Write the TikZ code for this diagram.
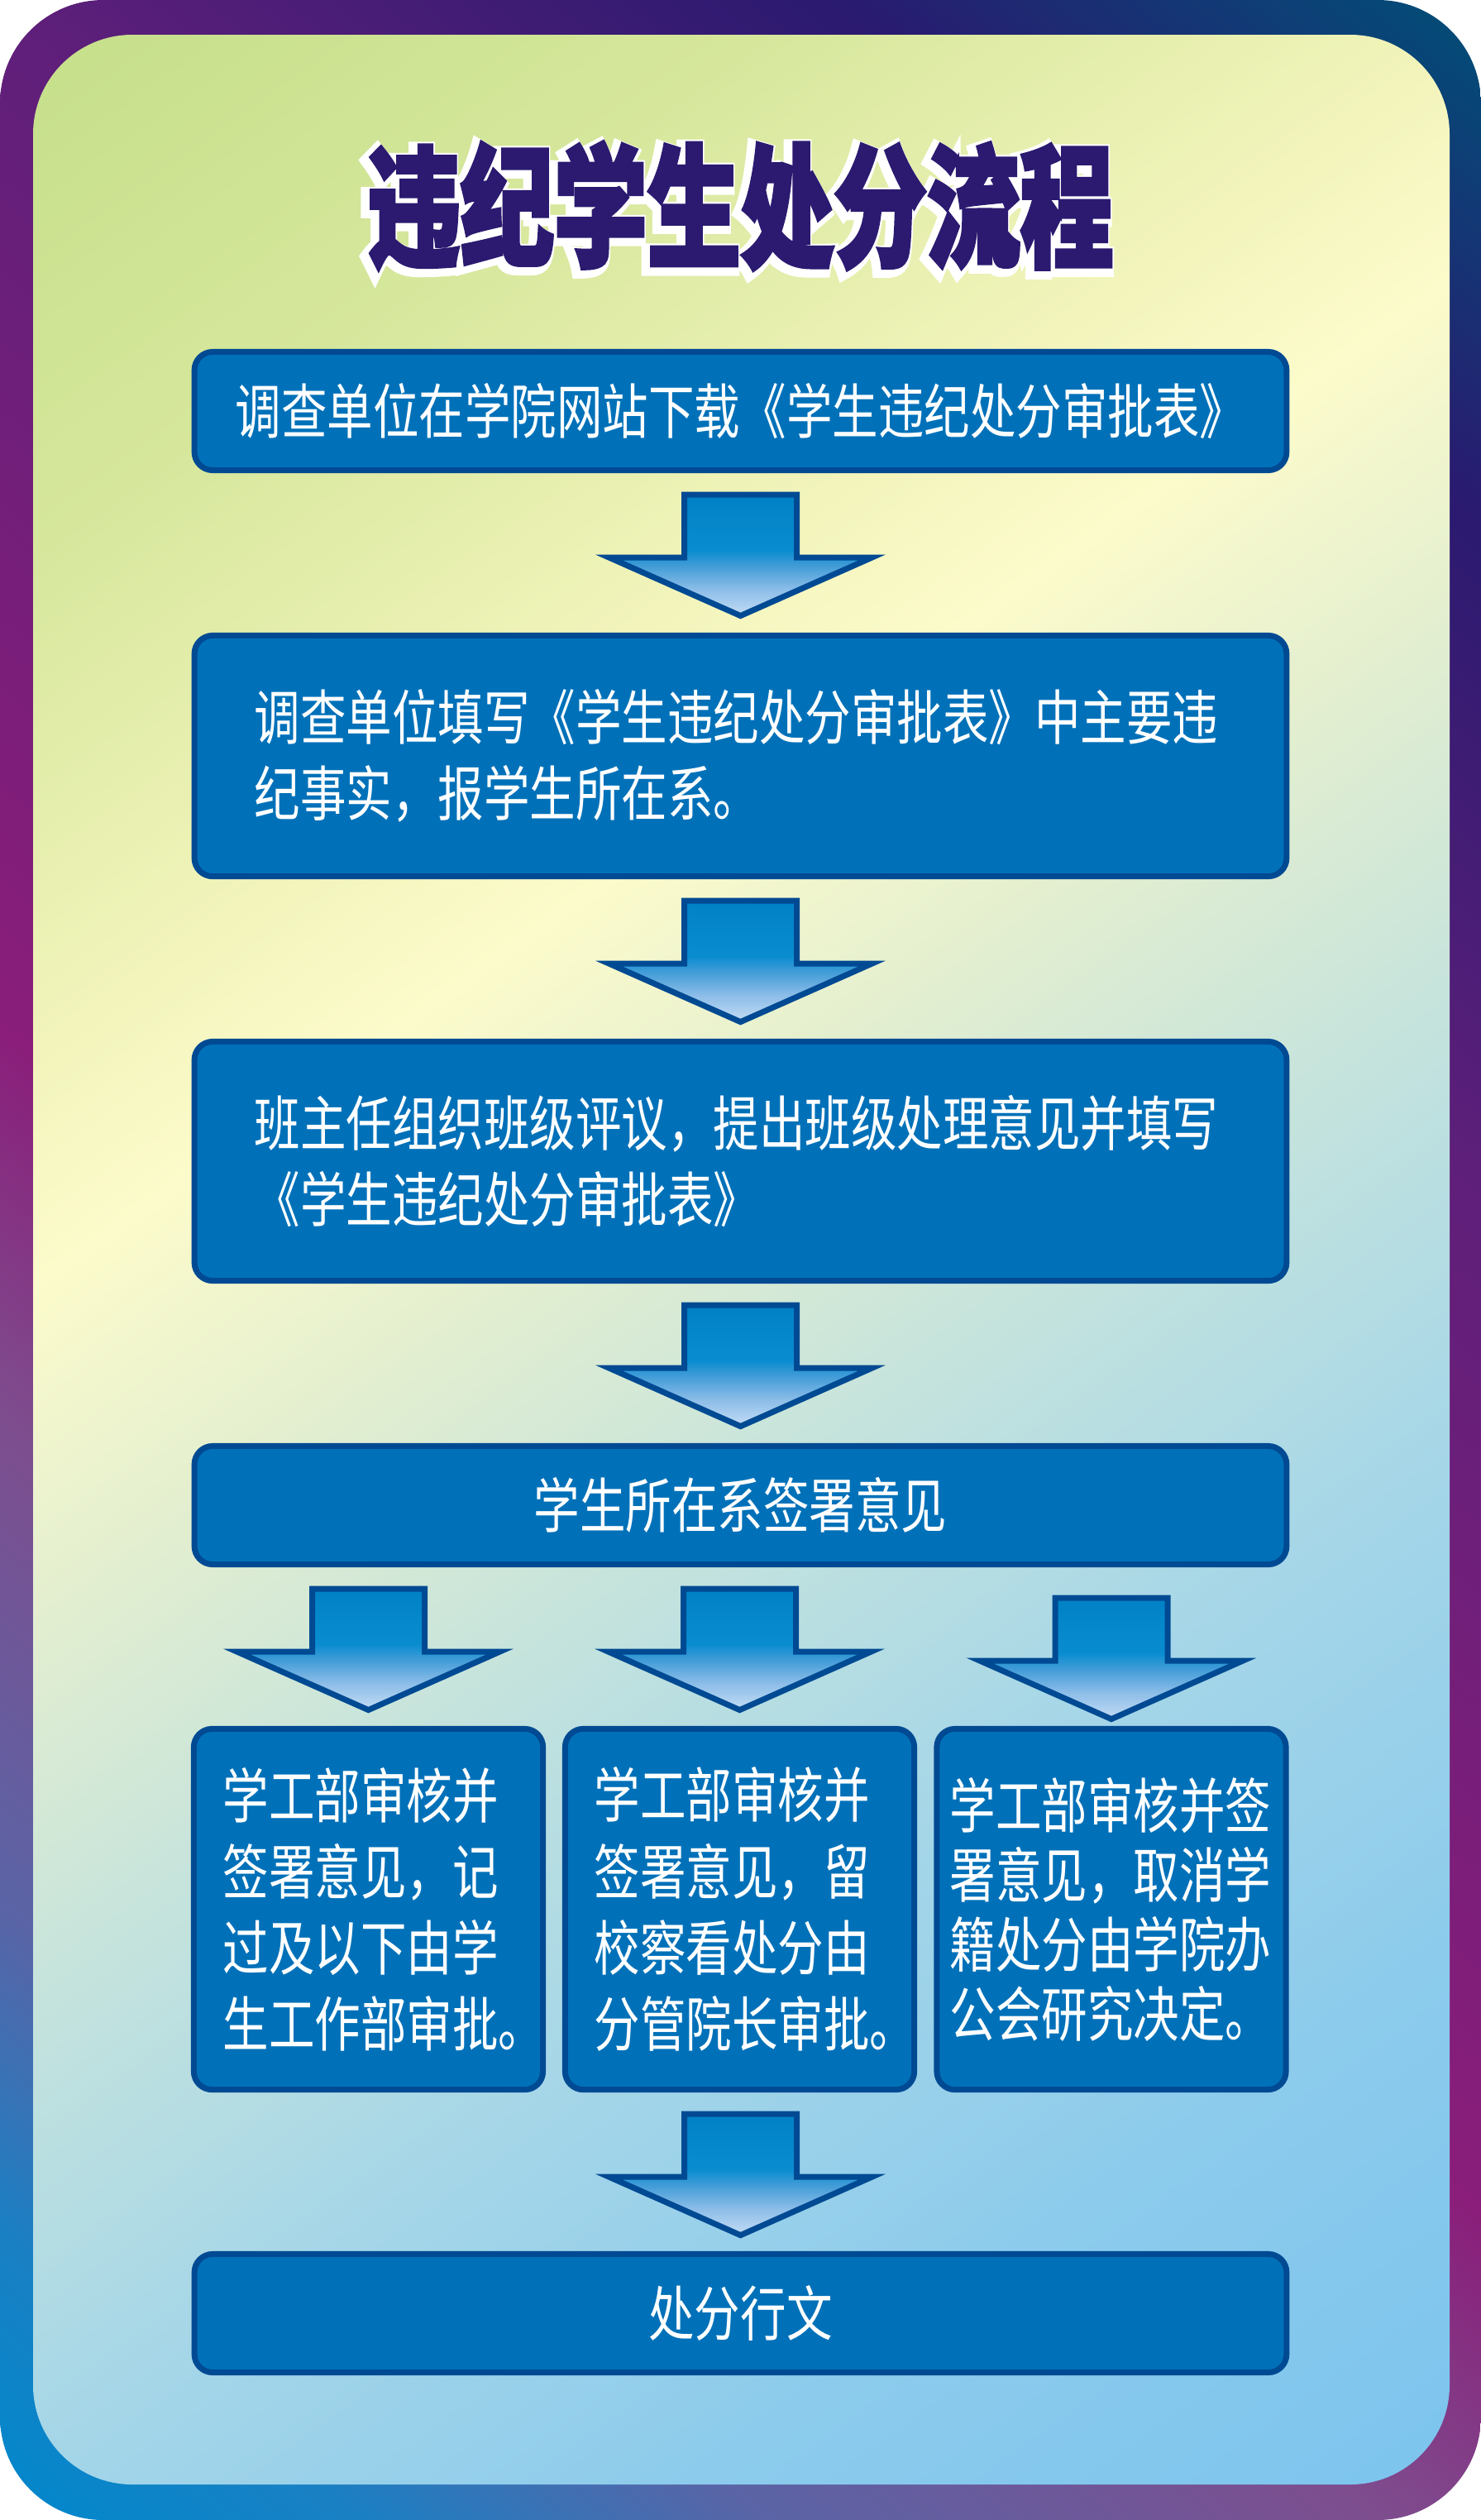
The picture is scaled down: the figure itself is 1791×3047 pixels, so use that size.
\documentclass[tikz,border=0pt]{standalone}
\usepackage{fontspec}
\usetikzlibrary{calc}
\newfontfamily\bodyfont[FakeStretch=0.77]{Noto Sans CJK SC}
\newfontfamily\titlefont[FakeStretch=0.70, BoldFeatures={FakeBold=2.5}]{Noto Sans CJK SC}
\newfontfamily\titlehalo[FakeStretch=0.70, FakeBold=10, BoldFeatures={FakeBold=10}]{Noto Sans CJK SC}

\definecolor{titleink}{HTML}{2B1A70}
\definecolor{boxfill}{HTML}{0071B9}
\definecolor{boxline}{HTML}{004A93}
\definecolor{fr1}{HTML}{0088CC}
\definecolor{fr2}{HTML}{1A80C4}
\definecolor{fr3}{HTML}{5A64A6}
\definecolor{fr4}{HTML}{7E4D8E}
\definecolor{fr5}{HTML}{8A1E7A}
\definecolor{fr6}{HTML}{5E1F7A}
\definecolor{fr7}{HTML}{2A1A70}
\definecolor{fr8}{HTML}{005078}
\definecolor{pn1}{HTML}{C5DF8A}
\definecolor{pn2}{HTML}{D6E79C}
\definecolor{pn3}{HTML}{F2F4BB}
\definecolor{pn4}{HTML}{FCFBCB}
\definecolor{pn5}{HTML}{E2EED0}
\definecolor{pn6}{HTML}{C2E2DE}
\definecolor{pn7}{HTML}{A5D6E8}
\definecolor{pn8}{HTML}{8CCBEC}
\definecolor{pn9}{HTML}{7CC4EE}
\definecolor{ar1}{HTML}{C4DCF5}
\definecolor{ar2}{HTML}{8CBDE8}
\definecolor{ar3}{HTML}{3F9BD7}
\definecolor{ar4}{HTML}{0A8DD0}
\definecolor{ar5}{HTML}{0081C5}

\pgfdeclareverticalshading{framegrad}{100bp}{color(0bp)=(fr1); color(25bp)=(fr1); color(28.9bp)=(fr2); color(33.3bp)=(fr3); color(40bp)=(fr4); color(45.1bp)=(fr5); color(59bp)=(fr6); color(68bp)=(fr7); color(75bp)=(fr8); color(100bp)=(fr8)}
\pgfdeclareverticalshading{panelgrad}{100bp}{color(0bp)=(pn9); color(25bp)=(pn9); color(32.7bp)=(pn8); color(39.9bp)=(pn7); color(45.9bp)=(pn6); color(51.9bp)=(pn5); color(56.9bp)=(pn4); color(60.3bp)=(pn3); color(67.5bp)=(pn2); color(75bp)=(pn1); color(100bp)=(pn1)}
\pgfdeclareverticalshading{arrowfill}{100bp}{color(0bp)=(ar1); color(25bp)=(ar1); color(36bp)=(ar2); color(46bp)=(ar3); color(52bp)=(ar4); color(75bp)=(ar5); color(100bp)=(ar5)}

\tikzset{
  titletext/.style={inner sep=0pt, text=titleink, font=\titlefont\bfseries\fontsize{45.8pt}{50pt}\selectfont},
  stepbox/.style={rectangle, rounded corners=0.22cm, fill=boxfill, draw=boxline, line width=0.07cm, text=white, minimum width=13.2cm, inner sep=0.1cm, align=center, font=\bodyfont\fontsize{20.5pt}{26.2pt}\selectfont},
  notebox/.style={text width=11.75cm, align=left},
  pairbox/.style={stepbox, minimum width=4.22cm, minimum height=4.36cm, align=left},
  flowarr/.style={draw=boxline, line width=0.07cm, line join=miter, shading=arrowfill},
}
\def\flowarrow(#1)(#2)(#3){\draw[flowarr] ($(#2.north |- #1.south)+(-68,26+#3)$) -- ++(0,76) -- ++(-91,0) -- ++(159,70.5) -- ++(159,-70.5) -- ++(-91,0) -- ++(0,-76) -- cycle;}
\def\tiltshade(#1)(#2:#3:#4){\pgftransformshift{\pgfpointxy{#1}{#2}}\pgftransformrotate{#3}\pgftransformscale{#4}\pgflowlevelsynccm}

\begin{document}
\begin{tikzpicture}[x=0.01cm,y=-0.01cm]
	%%%%% START %%%%%
	\useasboundingbox (0,0) rectangle (1791,3047);
	
	\begin{scope}
		\clip[rounded corners=1.25cm] (0,0) rectangle (1791,3047);
		\tiltshade(895.5)(1523.5:-38.66:19.84)
		\pgfuseshading{framegrad}
	\end{scope}
	\begin{scope}
		\clip[rounded corners=1.2cm] (40,42) rectangle (1753,3004);
		\tiltshade(896.5)(1523:35.33:19.31)
		\pgfuseshading{panelgrad}
	\end{scope}
	
	\node[titletext, text=white, font=\titlehalo\bfseries\fontsize{45.8pt}{50pt}\selectfont] (titlehalo) at (891,253) {违纪学生处分流程};
	\node[titletext] (title) at (895.5,249) {违纪学生处分流程};
	
	\node[stepbox, minimum height=1.43cm] (b1) at (895.5,497) {调查单位在学院网站下载《学生违纪处分审批表》};
	\node[stepbox, notebox, minimum height=2.91cm] (b2) at (895.5,914) {调查单位填写《学生违纪处分审批表》中主要违\\纪事实，报学生所在系。};
	\node[stepbox, notebox, minimum height=2.89cm] (b3) at (895.5,1404) {班主任组织班级评议，提出班级处理意见并填写\\《学生违纪处分审批表》};
	\node[stepbox, minimum height=1.43cm] (b4) at (895.5,1820) {学生所在系签署意见};
	
	\node[pairbox, text width=3.51cm] (ba) at (445.5,2308.5) {学工部审核并\\签署意见，记\\过及以下由学\\生工作部审批\rlap{。}};
	\node[pairbox, text width=3.51cm] (bb) at (894.5,2308.5) {学工部审核并\\签署意见，留\\校察看处分由\\分管院长审批\rlap{。}};
	\node[pairbox, text width=3.9cm, inner xsep=0.05cm, font=\bodyfont\fontsize{20.5pt}{23.9pt}\selectfont] (bc) at (1344,2308.5) {学工部审核并签\\署意见，取消学\\籍处分由学院办\\公会研究决定。};
	
	\node[stepbox, minimum height=1.43cm] (b5) at (895.5,2797) {处分行文};
	
	\flowarrow(b1)(b2)(0)
	\flowarrow(b2)(b3)(0)
	\flowarrow(b3)(b4)(0)
	\flowarrow(b4)(ba)(0)
	\flowarrow(b4)(bb)(0)
	\flowarrow(b4)(bc)(11)
	\flowarrow(bb)(b5)(0)
	
	%%%%% END %%%%%
\end{tikzpicture}
\end{document}
